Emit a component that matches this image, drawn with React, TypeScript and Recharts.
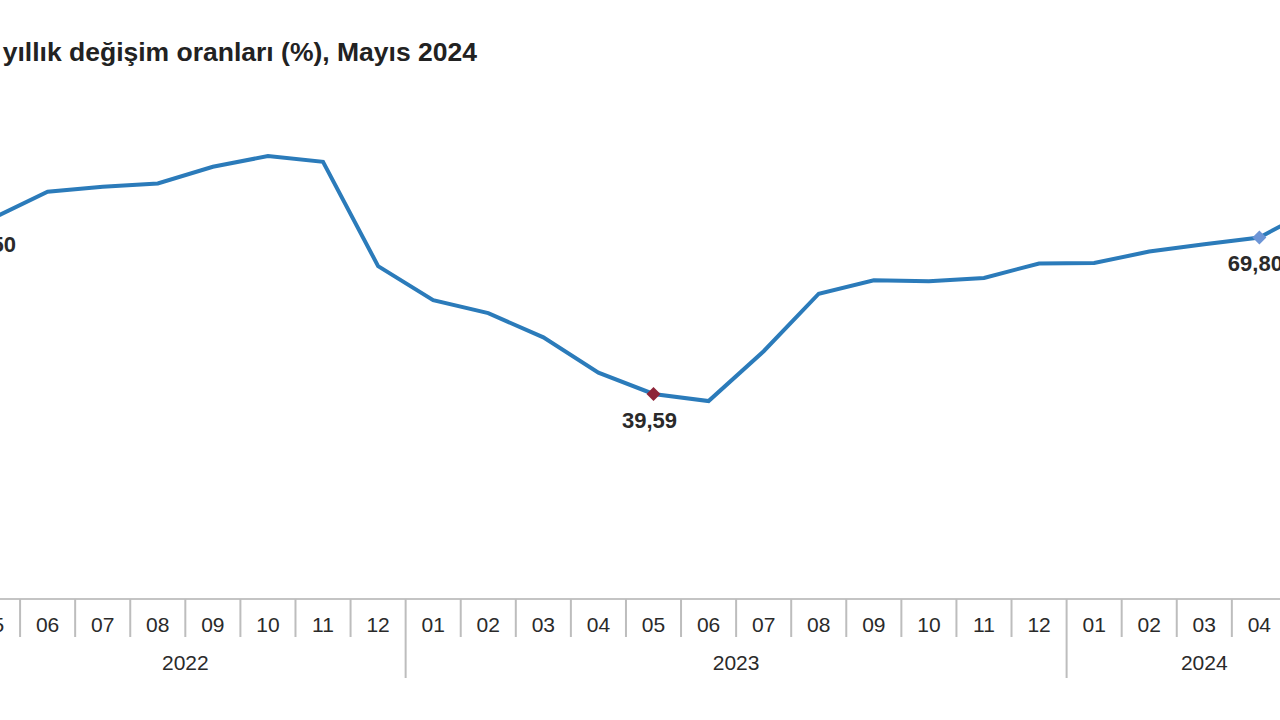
import { LineChart, Line, XAxis, YAxis, LabelList } from 'recharts';

const MONTHS = ['05', '06', '07', '08', '09', '10', '11', '12', '01', '02', '03', '04', '05', '06', '07', '08', '09', '10', '11', '12', '01', '02', '03', '04', '05'];
const YEARS = ['2022', '2022', '2022', '2022', '2022', '2022', '2022', '2022', '2023', '2023', '2023', '2023', '2023', '2023', '2023', '2023', '2023', '2023', '2023', '2023', '2024', '2024', '2024', '2024', '2024'];
const VALUES = [73.5, 78.62, 79.6, 80.21, 83.45, 85.51, 84.39, 64.27, 57.68, 55.18, 50.51, 43.68, 39.59, 38.21, 47.83, 58.94, 61.53, 61.36, 61.98, 64.77, 64.86, 67.07, 68.5, 69.8, 75.45];
// points that get a diamond marker and a value label
const HIGHLIGHT_INDEX = [0, 12, 23];
const HIGHLIGHT_COLOR = ['#6d95d6', '#8e2438', '#6d95d6'];

const TITLE = 'Tüketici fiyat endeksi (TÜFE) yıllık değişim oranları (%), Mayıs 2024';

const CHART_W = 1377;
const CHART_H = 720;
const BAND = CHART_W / MONTHS.length;
const FONT = 'Arial, "Liberation Sans", Helvetica, sans-serif';

const data = MONTHS.map((m, i) => ({ month: m, year: YEARS[i], value: VALUES[i], idx: i }));

function MonthTick(props: any) {
  const { x, y, payload } = props;
  const i = payload.index;
  const left = x - BAND / 2;
  const yearStart = i === 0 || YEARS[i] !== YEARS[i - 1];
  const count = YEARS.filter((yr) => yr === YEARS[i]).length;
  return (
    <g>
      <line x1={left} x2={left} y1={y} y2={yearStart ? y + 79 : y + 38} stroke="#bdbdbd" strokeWidth={2} />
      <text x={x} y={y + 33} textAnchor="middle" fontSize={21} fill="#2a2a2a" fontFamily={FONT}>
        {payload.value}
      </text>
      {yearStart && (
        <text x={left + (count * BAND) / 2} y={y + 71} textAnchor="middle" fontSize={21} fill="#2a2a2a" fontFamily={FONT}>
          {YEARS[i]}
        </text>
      )}
    </g>
  );
}

function Diamond(props: any) {
  const { cx, cy, index } = props;
  const h = HIGHLIGHT_INDEX.indexOf(index);
  if (h < 0) return <g key={index} />;
  const r = 7;
  return (
    <path
      key={index}
      d={`M${cx},${cy - r}L${cx + r},${cy}L${cx},${cy + r}L${cx - r},${cy}Z`}
      fill={HIGHLIGHT_COLOR[h]}
    />
  );
}

function ValueLabel(props: any) {
  const { x, y, value, index } = props;
  if (!HIGHLIGHT_INDEX.includes(index)) return null;
  return (
    <text x={x - 4} y={y + 34} textAnchor="middle" fontSize={22} fontWeight="bold" fill="#2a2a2a" fontFamily={FONT}>
      {Number(value).toFixed(2).replace('.', ',')}
    </text>
  );
}

export default function App() {
  return (
    <div style={{ position: 'fixed', top: 0, left: 0, width: 1280, height: 720, overflow: 'hidden', background: '#fff' }}>
      <div
        style={{
          position: 'absolute',
          right: 803,
          top: 37,
          whiteSpace: 'nowrap',
          fontFamily: FONT,
          fontWeight: 'bold',
          fontSize: 26.5,
          lineHeight: '30px',
          color: '#222',
        }}
      >
        {TITLE}
      </div>
      <div style={{ position: 'absolute', left: -35, top: 0 }}>
        <LineChart width={CHART_W} height={CHART_H} data={data} margin={{ top: 81, right: 0, bottom: 0, left: 0 }}>
          <YAxis hide domain={[0, 100]} />
          <XAxis
            dataKey="month"
            interval={0}
            height={121}
            tickSize={0}
            tickMargin={0}
            tickLine={false}
            padding={{ left: BAND / 2, right: BAND / 2 }}
            axisLine={{ stroke: '#c4c4c4', strokeWidth: 2 }}
            tick={<MonthTick />}
          />
          <Line
            type="linear"
            dataKey="value"
            stroke="#2b7bba"
            strokeWidth={4}
            dot={<Diamond />}
            activeDot={false}
            isAnimationActive={false}
          >
            <LabelList dataKey="value" content={<ValueLabel />} />
          </Line>
        </LineChart>
      </div>
    </div>
  );
}
